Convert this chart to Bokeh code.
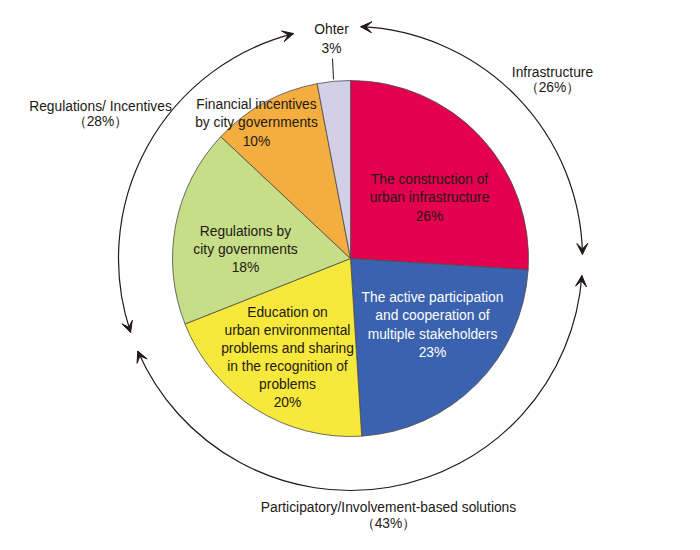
import numpy as np
from bokeh.plotting import figure
from bokeh.models import Range1d, Arrow, VeeHead, ColumnDataSource
from bokeh.core.properties import value
from bokeh.embed import file_html
from bokeh.resources import INLINE

# ---------------- data ----------------
slice_labels = [
    "The construction of\nurban infrastructure",
    "The active participation\nand cooperation of\nmultiple stakeholders",
    "Education on\nurban environmental\nproblems and sharing\nin the recognition of\nproblems",
    "Regulations by\ncity governments",
    "Financial incentives\nby city governments",
    "Ohter",
]
slice_shares = [26, 23, 20, 18, 10, 3]
slice_colors = ["#E4004F", "#3B62AE", "#F7E83C", "#C6DE87", "#F4AE3F", "#D3CFE7"]
slice_text_colors = ["#231815", "#FFFFFF", "#231815", "#231815", "#231815", "#231815"]

group_labels = ["Infrastructure", "Participatory/Involvement-based solutions", "Regulations/ Incentives"]
group_shares = [26, 43, 28]

# ---------------- layout (pixel-based) ----------------
W, H = 684, 534
def py(y):  # page pixel y -> data y
    return 550 - y

CX, CY = 350, py(258)
R_PIE = 178
R_RING = 232
FONT = value("Liberation Sans")
FS = "13.8px"

p = figure(width=W, height=H, x_range=Range1d(0, W), y_range=Range1d(550 - H, 550),
           output_backend="svg", toolbar_location=None, min_border=0)
p.axis.visible = False
p.grid.visible = False
p.outline_line_color = None
p.background_fill_color = "white"

# pie wedges, clockwise from 12 o'clock
fr = np.array(slice_shares, dtype=float) / sum(slice_shares)
cum = np.concatenate([[0], np.cumsum(fr)])
starts = np.pi / 2 - cum[1:] * 2 * np.pi
ends = np.pi / 2 - cum[:-1] * 2 * np.pi
src = ColumnDataSource(dict(start=starts, end=ends, color=slice_colors))
p.wedge(x=CX, y=CY, radius=R_PIE, start_angle="start", end_angle="end",
        fill_color="color", line_color="#4a4a4a", line_width=0.8, source=src)

# slice labels
label_pos = [(429, 197.5), (432, 324.5), (287, 357), (245, 249), (256, 122.5), (331, 38.5)]
for lab, sh, tc, (lx, ly) in zip(slice_labels, slice_shares, slice_text_colors, label_pos):
    p.text(x=[lx], y=[py(ly)], text=[f"{lab}\n{sh}%"], text_align="center",
           text_baseline="middle", text_font=FONT, text_font_size=FS,
           text_color=tc, text_line_height=1.21 if "Ohter" not in lab else 1.3)

# leader line for "Ohter"
p.line(x=[332, 333], y=[py(58), py(79)], line_color="#231815", line_width=1)

# group labels
group_pos = [(552, 79.5), (388, 515), (100, 113.5)]
for lab, sh, (lx, ly) in zip(group_labels, group_shares, group_pos):
    p.text(x=[lx], y=[py(ly)], text=[f"{lab}\n（{sh}%）"], text_align="center",
           text_baseline="middle", text_font=FONT, text_font_size=FS,
           text_color="#231815", text_line_height=1.04)

# ring arcs with arrow heads at both ends (math degrees, anticlockwise)
arcs = [(1.0, 87.5), (203.5, 355.8), (104.2, 198.6)]
for a0, a1 in arcs:
    t0, t1 = np.radians(a0), np.radians(a1)
    p.arc(x=CX, y=CY, radius=R_RING, start_angle=t0, end_angle=t1,
          direction="anticlock", line_color="#231815", line_width=1.2)
    for t, sgn in ((t1, 1), (t0, -1)):
        tx, ty = CX + R_RING * np.cos(t), CY + R_RING * np.sin(t)
        dx, dy = -np.sin(t) * sgn, np.cos(t) * sgn
        p.add_layout(Arrow(end=VeeHead(size=11, fill_color="#231815", line_color="#231815", line_width=1),
                           x_start=tx - 4 * dx, y_start=ty - 4 * dy, x_end=tx, y_end=ty,
                           line_color="#231815", line_width=1.2))

open("out.html", "w").write(file_html(p, INLINE))
